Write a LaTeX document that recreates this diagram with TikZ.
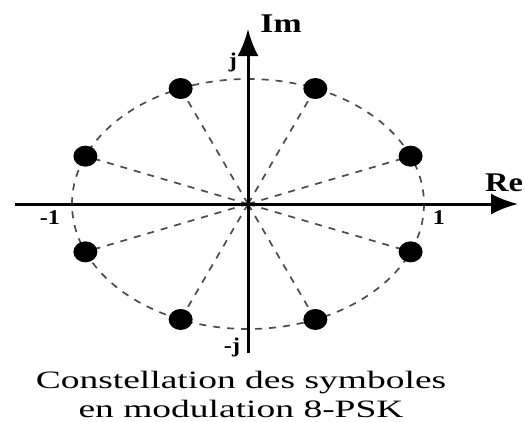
\documentclass[tikz,border=0pt]{standalone}
\usepackage{fontspec}
\setmainfont{Liberation Serif}
\usetikzlibrary{arrows.meta,shapes.geometric}

\begin{document}
\begin{tikzpicture}[x=1pt,y=-1pt,>={Latex[length=27pt,width=21pt]},
  sym/.style={ellipse,fill=black,inner sep=0pt,minimum width=24pt,minimum height=21pt},
  guide/.style={dash pattern=on 7pt off 7pt,line width=1.7pt,black!70},
  axis/.style={->,line width=3pt},
  axlbl/.style={font=\fontsize{27}{30}\selectfont\bfseries,xscale=1.25},
  numlbl/.style={font=\fontsize{21}{24}\selectfont\bfseries,xscale=1.15},
  caption/.style={font=\fontsize{25}{29}\selectfont,xscale=1.5,align=center}]
\useasboundingbox (0,0) rectangle (525,421);
\coordinate (O) at (248,204);
% unit circle, drawn stretched like the original
\draw[guide] (O) ellipse [x radius=176,y radius=125];
\foreach \a [count=\i] in {22.5,67.5,...,337.5}
  \coordinate (p\i) at ({248+176*cos(\a)},{204-125*sin(\a)});
\foreach \i in {1,...,8}
  \draw[guide] (O) -- (p\i);
% axes
\coordinate (xl) at (15,204);
\coordinate (xr) at (518,204);
\coordinate (yb) at (248,353);
\coordinate (yt) at (248,29);
\draw[axis] (xl) -- (xr);
\draw[axis] (yb) -- (yt);
% symbols
\foreach \i in {1,...,8}
  \node[sym] (s\i) at (p\i) {};
\node[axlbl] (im) at (281,24) {Im};
\node[axlbl,xscale=0.96] (re) at (504,183) {Re};
\node[numlbl] (one) at (439,218) {1};
\node[numlbl] (mone) at (50,218) {-1};
\node[numlbl] (jj) at (233,62) {j};
\node[numlbl] (mj) at (232,347) {-j};
\node[caption] (cap) at (241,394) {Constellation des symboles\\en modulation 8-PSK};
\end{tikzpicture}
\end{document}
